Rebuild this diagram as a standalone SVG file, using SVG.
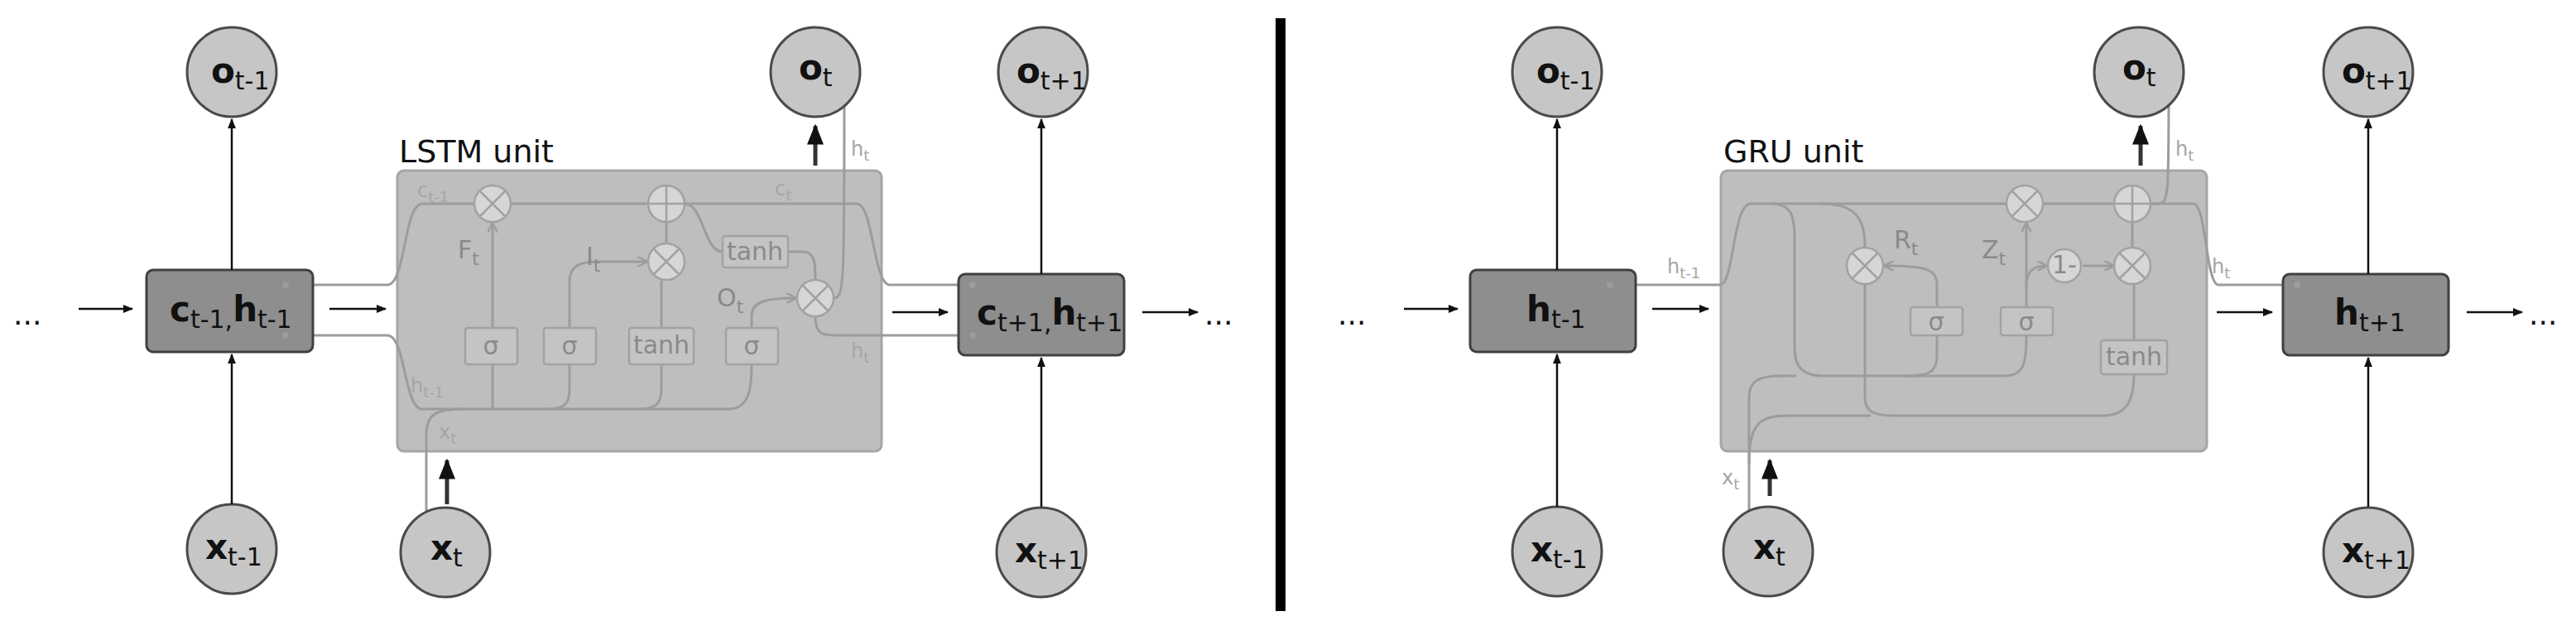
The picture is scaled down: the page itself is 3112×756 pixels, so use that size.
<svg xmlns="http://www.w3.org/2000/svg" width="3112" height="756" viewBox="0 0 3112 756">
<style>
.bg{fill:#fff}
.circ{fill:#c6c6c6;stroke:#4a4a4a;stroke-width:3}
.box{fill:#8e8e8e;stroke:#404040;stroke-width:3}
.unit{fill:#bebebe;stroke:#a6a6a6;stroke-width:3}
.ar{stroke:#111;stroke-width:2.5;fill:none;marker-end:url(#ab)}
.arT{stroke:#333;stroke-width:5;fill:none;marker-end:url(#ab)}
.w{stroke:#9c9c9c;stroke-width:3;fill:none}
.wa{stroke:#9c9c9c;stroke-width:3;fill:none;marker-end:url(#ag)}
.op{fill:#d6d6d6;stroke:#a2a2a2;stroke-width:2.5}
.opl{stroke:#a2a2a2;stroke-width:2.5}
.gb{fill:#c4c4c4;stroke:#a2a2a2;stroke-width:2.5}
.t{font-family:"DejaVu Sans",sans-serif;fill:#111}
.nl{font-size:42px;font-weight:bold}
.gl{font-family:"DejaVu Sans",sans-serif;fill:#8a8a8a;font-size:30px}
.gs{font-family:"DejaVu Sans",sans-serif;fill:#a6a6a6;font-size:24px}
</style>
<defs>
<marker id="ab" viewBox="0 0 10 10" refX="9" refY="5" markerWidth="5" markerHeight="5" markerUnits="strokeWidth" orient="auto"><path d="M0,1 L10,5 L0,9 z" fill="#111"/></marker>
<marker id="ag" viewBox="0 0 10 10" refX="9" refY="5" markerWidth="4" markerHeight="4" markerUnits="strokeWidth" orient="auto"><path d="M0,0 L10,5 L0,10" fill="none" stroke="#9c9c9c" stroke-width="2"/></marker>
</defs>
<rect class="bg" width="3112" height="756"/>
<rect x="1541" y="22" width="12" height="716" fill="#000"/>

<!-- LSTM unit -->
<g id="lstm-unit">
<rect class="unit" x="480" y="206" width="585" height="339" rx="8"/>
<text class="t" x="482" y="196" font-size="38">LSTM unit</text>
</g>
<g id="lstm-internal">
<path class="w" d="M378,344 H468 C490,344 488,246 510,246 H1035 C1055,246 1055,344 1075,344 H1158"/>
<path class="w" d="M378,405 H468 C490,405 488,494 510,494 H880 C905,494 908,470 908,440"/>
<path class="w" d="M515,640 V525 C515,498 530,494 560,494"/>
<path class="wa" d="M595,494 V440 M595,396 V270"/>
<path class="w" d="M688,440 V470 C688,490 680,494 660,494"/>
<path class="wa" d="M688,396 V340 C688,322 700,316 720,316 H781"/>
<path class="w" d="M799,440 V470 C799,490 790,494 770,494"/>
<path class="w" d="M799,396 V339 M805,293 V269"/>
<path class="wa" d="M908,396 V382 C908,366 920,360 961,360"/>
<path class="w" d="M827,246 C850,246 850,304 873,304 M952,304 H970 C985,304 985,320 985,337"/>
<path class="w" d="M1007,360 C1020,360 1020,345 1020,100"/>
<circle cx="1020" cy="100" r="5" fill="#9c9c9c"/>
<circle cx="515" cy="640" r="5" fill="#9c9c9c"/>
<path class="w" d="M985,383 C985,405 995,405 1012,405 H1158"/>
<g id="lstm-ops">
<circle class="op" cx="595" cy="246" r="22"/><path class="opl" d="M580,231 L610,261 M610,231 L580,261"/>
<circle class="op" cx="805" cy="246" r="22"/><path class="opl" d="M783,246 H827 M805,224 V268"/>
<circle class="op" cx="805" cy="316" r="22"/><path class="opl" d="M790,301 L820,331 M820,301 L790,331"/>
<circle class="op" cx="985" cy="360" r="22"/><path class="opl" d="M970,345 L1000,375 M1000,345 L970,375"/>
<rect class="gb" x="873" y="285" width="79" height="38" rx="3"/><text class="gl" x="912" y="314" text-anchor="middle" font-size="26">tanh</text>
<rect class="gb" x="562" y="396" width="63" height="44" rx="3"/><text class="gl" x="593" y="428" text-anchor="middle">σ</text>
<rect class="gb" x="657" y="396" width="63" height="44" rx="3"/><text class="gl" x="688" y="428" text-anchor="middle">σ</text>
<rect class="gb" x="760" y="396" width="78" height="44" rx="3"/><text class="gl" x="799" y="427" text-anchor="middle" font-size="26">tanh</text>
<rect class="gb" x="877" y="396" width="63" height="44" rx="3"/><text class="gl" x="908" y="428" text-anchor="middle">σ</text>
</g>
<text class="gl" x="553" y="312">F<tspan font-size="22" dy="8">t</tspan></text>
<text class="gl" x="708" y="320">I<tspan font-size="22" dy="8">t</tspan></text>
<text class="gl" x="866" y="370">O<tspan font-size="22" dy="8">t</tspan></text>
<text class="gs" x="504" y="238">c<tspan font-size="18" dy="6">t-1</tspan></text>
<text class="gs" x="936" y="236">c<tspan font-size="18" dy="6">t</tspan></text>
<text class="gs" x="496" y="474">h<tspan font-size="18" dy="6">t-1</tspan></text>
<text class="gs" x="530" y="530">x<tspan font-size="18" dy="6">t</tspan></text>
<text class="gs" x="1028" y="432">h<tspan font-size="18" dy="6">t</tspan></text>
<text class="gs" x="1028" y="188">h<tspan font-size="18" dy="6">t</tspan></text>
</g>

<!-- LSTM nodes -->
<g id="l-o-tm1"><ellipse class="circ" cx="280" cy="87" rx="54" ry="54"/><text class="t nl" x="255" y="100">o<tspan font-size="30" font-weight="normal" dy="8">t-1</tspan></text></g>
<g id="l-o-t"><ellipse class="circ" cx="985" cy="87" rx="54" ry="54"/><text class="t nl" x="965" y="96">o<tspan font-size="30" font-weight="normal" dy="8">t</tspan></text></g>
<g id="l-o-tp1"><ellipse class="circ" cx="1260" cy="87" rx="54" ry="54"/><text class="t nl" x="1228" y="100">o<tspan font-size="30" font-weight="normal" dy="8">t+1</tspan></text></g>
<g id="l-x-tm1"><ellipse class="circ" cx="280" cy="663" rx="54" ry="54"/><text class="t nl" x="248" y="675">x<tspan font-size="30" font-weight="normal" dy="8">t-1</tspan></text></g>
<g id="l-x-t"><ellipse class="circ" cx="538" cy="667" rx="54" ry="54"/><text class="t nl" x="520" y="676">x<tspan font-size="30" font-weight="normal" dy="8">t</tspan></text></g>
<g id="l-x-tp1"><ellipse class="circ" cx="1258" cy="667" rx="54" ry="54"/><text class="t nl" x="1226" y="679">x<tspan font-size="30" font-weight="normal" dy="8">t+1</tspan></text></g>
<g id="l-b-tm1"><rect class="box" x="177" y="326" width="201" height="99" rx="8"/><text class="t nl" x="205" y="388">c<tspan font-size="30" font-weight="normal" dy="8">t-1,</tspan><tspan dy="-8">h</tspan><tspan font-size="30" font-weight="normal" dy="8">t-1</tspan></text></g>
<g id="l-b-tp1"><rect class="box" x="1158" y="331" width="200" height="98" rx="8"/><text class="t nl" x="1180" y="392">c<tspan font-size="30" font-weight="normal" dy="8">t+1,</tspan><tspan dy="-8">h</tspan><tspan font-size="30" font-weight="normal" dy="8">t+1</tspan></text></g>
<circle cx="345" cy="344" r="4" fill="#9c9c9c"/><circle cx="345" cy="405" r="4" fill="#9c9c9c"/>
<circle cx="1175" cy="344" r="4" fill="#9c9c9c"/><circle cx="1175" cy="405" r="4" fill="#9c9c9c"/>

<!-- GRU unit -->
<g id="gru-unit">
<rect class="unit" x="2079" y="206" width="587" height="339" rx="8"/>
<text class="t" x="2082" y="196" font-size="38">GRU unit</text>
</g>
<g id="gru-internal">
<path class="w" d="M1976,344 H2078 C2095,344 2093,246 2115,246 H2650 C2665,246 2665,344 2680,344 H2758"/>
<path class="w" d="M2140,246 C2165,246 2168,262 2168,290 V420 C2168,446 2180,454 2205,454 H2420 C2445,454 2448,440 2448,405"/>
<path class="w" d="M2200,246 C2240,246 2253,262 2253,298 M2253,344 V480 C2253,498 2265,502 2290,502 H2540 C2570,502 2578,482 2578,452"/>
<path class="wa" d="M2340,371 V345 C2340,326 2330,321 2277,321"/>
<path class="w" d="M2340,405 V430 C2340,450 2330,454 2300,454"/>
<path class="wa" d="M2448,371 V345 C2448,326 2458,321 2472,321"/>
<path class="wa" d="M2448,345 V270"/>
<path class="wa" d="M2516,321 H2553"/>
<path class="w" d="M2578,411 V344 M2576,298 V269"/>
<path class="w" d="M2598,246 H2608 C2620,246 2620,232 2620,97"/>
<circle cx="2620" cy="97" r="5" fill="#9c9c9c"/>
<path class="w" d="M2113,640 V480 C2113,460 2125,454 2150,454 H2170"/>
<path class="w" d="M2113,560 C2113,512 2125,502 2160,502 H2260"/>
<circle cx="2113" cy="640" r="5" fill="#9c9c9c"/>
<g id="gru-ops">
<circle class="op" cx="2446" cy="246" r="22"/><path class="opl" d="M2431,231 L2461,261 M2461,231 L2431,261"/>
<circle class="op" cx="2576" cy="246" r="22"/><path class="opl" d="M2554,246 H2598 M2576,224 V268"/>
<circle class="op" cx="2253" cy="321" r="22"/><path class="opl" d="M2238,306 L2268,336 M2268,306 L2238,336"/>
<circle class="op" cx="2494" cy="321" r="20"/><text class="gl" x="2494" y="330" text-anchor="middle" font-size="22">1-</text>
<circle class="op" cx="2576" cy="321" r="22"/><path class="opl" d="M2561,306 L2591,336 M2591,306 L2561,336"/>
<rect class="gb" x="2308" y="371" width="63" height="34" rx="3"/><text class="gl" x="2339" y="399" text-anchor="middle">σ</text>
<rect class="gb" x="2417" y="371" width="63" height="34" rx="3"/><text class="gl" x="2448" y="399" text-anchor="middle">σ</text>
<rect class="gb" x="2538" y="411" width="80" height="41" rx="3"/><text class="gl" x="2578" y="441" text-anchor="middle" font-size="26">tanh</text>
</g>
<text class="gl" x="2288" y="300">R<tspan font-size="22" dy="8">t</tspan></text>
<text class="gl" x="2394" y="312">Z<tspan font-size="22" dy="8">t</tspan></text>
<text class="gs" x="2014" y="330">h<tspan font-size="18" dy="6">t-1</tspan></text>
<text class="gs" x="2672" y="330">h<tspan font-size="18" dy="6">t</tspan></text>
<text class="gs" x="2628" y="188">h<tspan font-size="18" dy="6">t</tspan></text>
<text class="gs" x="2080" y="585">x<tspan font-size="18" dy="6">t</tspan></text>
</g>

<!-- GRU nodes -->
<g id="g-o-tm1"><ellipse class="circ" cx="1881" cy="87" rx="54" ry="54"/><text class="t nl" x="1856" y="100">o<tspan font-size="30" font-weight="normal" dy="8">t-1</tspan></text></g>
<g id="g-o-t"><ellipse class="circ" cx="2584" cy="87" rx="54" ry="54"/><text class="t nl" x="2564" y="96">o<tspan font-size="30" font-weight="normal" dy="8">t</tspan></text></g>
<g id="g-o-tp1"><ellipse class="circ" cx="2861" cy="87" rx="54" ry="54"/><text class="t nl" x="2829" y="100">o<tspan font-size="30" font-weight="normal" dy="8">t+1</tspan></text></g>
<g id="g-x-tm1"><ellipse class="circ" cx="1881" cy="666" rx="54" ry="54"/><text class="t nl" x="1849" y="678">x<tspan font-size="30" font-weight="normal" dy="8">t-1</tspan></text></g>
<g id="g-x-t"><ellipse class="circ" cx="2136" cy="666" rx="54" ry="54"/><text class="t nl" x="2118" y="675">x<tspan font-size="30" font-weight="normal" dy="8">t</tspan></text></g>
<g id="g-x-tp1"><ellipse class="circ" cx="2861" cy="667" rx="54" ry="54"/><text class="t nl" x="2829" y="679">x<tspan font-size="30" font-weight="normal" dy="8">t+1</tspan></text></g>
<g id="g-b-tm1"><rect class="box" x="1776" y="326" width="200" height="99" rx="8"/><text class="t nl" x="1844" y="388">h<tspan font-size="30" font-weight="normal" dy="8">t-1</tspan></text></g>
<g id="g-b-tp1"><rect class="box" x="2758" y="331" width="200" height="98" rx="8"/><text class="t nl" x="2820" y="392">h<tspan font-size="30" font-weight="normal" dy="8">t+1</tspan></text></g>
<circle cx="1945" cy="344" r="4" fill="#9c9c9c"/><circle cx="2775" cy="344" r="4" fill="#9c9c9c"/>

<!-- connectors -->
<g id="connectors">
<path class="ar" d="M280,326 V144"/>
<path class="ar" d="M280,609 V428"/>
<path class="ar" d="M1258,331 V144"/>
<path class="ar" d="M1258,612 V432"/>
<path class="ar" d="M95,373 H160"/>
<path class="ar" d="M398,373 H466"/>
<path class="ar" d="M1078,377 H1145"/>
<path class="ar" d="M1380,377 H1447"/>
<path class="arT" d="M985,200 V152"/>
<path class="arT" d="M540,609 V556"/>
<path class="ar" d="M1881,326 V144"/>
<path class="ar" d="M1881,612 V428"/>
<path class="ar" d="M2861,331 V144"/>
<path class="ar" d="M2861,612 V432"/>
<path class="ar" d="M1696,373 H1761"/>
<path class="ar" d="M1996,373 H2064"/>
<path class="ar" d="M2678,377 H2745"/>
<path class="ar" d="M2980,377 H3047"/>
<path class="arT" d="M2586,200 V152"/>
<path class="arT" d="M2138,599 V556"/>
</g>
<text class="t" x="16" y="392" font-size="36">...</text>
<text class="t" x="1455" y="392" font-size="36">...</text>
<text class="t" x="1616" y="392" font-size="36">...</text>
<text class="t" x="3055" y="392" font-size="36">...</text>
</svg>
